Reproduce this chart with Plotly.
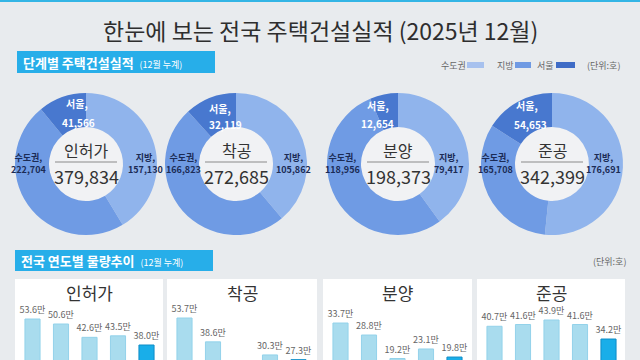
import plotly.graph_objects as go

# ---------------- data ----------------
stages = ['인허가', '착공', '분양', '준공']
metro_total = [222704, 166823, 118956, 165708]   # 수도권 (incl. 서울)
local_total = [157130, 105862, 79417, 176691]    # 지방
seoul_total = [41566, 32119, 12654, 54653]       # 서울
grand_total = [379834, 272685, 198373, 342399]

years = ['2021', '2022', '2023', '2024', '2025']
permit = [53.6, 50.6, 42.6, 43.5, 38.0]
start = [53.7, 38.6, 24.6, 30.3, 27.3]
presale = [33.7, 28.8, 19.2, 23.1, 19.8]
completion = [40.7, 41.6, 43.9, 41.6, 34.2]
yearly = [permit, start, presale, completion]

# ---------------- layout helpers ----------------
W, H = 640, 360
def px(x):
    return x / W
def py(y):
    return 1 - y / H

FONT = 'Noto Sans CJK KR'
BG = '#e8ebee'
C_LOCAL, C_METRO, C_SEOUL = '#90b4ec', '#6f9be4', '#4878cf'

fig = go.Figure()
shapes = []
ann = []

def text(x, y, s, size, color='#333', xanchor='center', weight='normal'):
    ann.append(dict(x=px(x), y=py(y), xref='paper', yref='paper', text=s, showarrow=False,
                    xanchor=xanchor, yanchor='middle',
                    font=dict(family=FONT, size=size, color=color, weight=weight)))

# top strip
shapes.append(dict(type='rect', xref='paper', yref='paper', x0=0, x1=1, y0=py(2), y1=1,
                   fillcolor='#33b5e5', line=dict(width=0)))
# title
text(320, 30, '한눈에 보는 전국 주택건설실적 (2025년 12월)', 23, '#2e2e2e')

# section headers
def header(x0, y0, x1, y1, main, sub):
    shapes.append(dict(type='rect', xref='paper', yref='paper', x0=px(x0), x1=px(x1),
                       y0=py(y1), y1=py(y0), fillcolor='#27aee9', line=dict(width=0)))
    text(x0 + 4, (y0 + y1) / 2,
         f"<b>{main}</b>  <span style='font-size:9px'>{sub}</span>", 13, 'white', xanchor='left')

header(17, 51, 215, 73, '단계별 주택건설실적', '(12월 누계)')
header(15, 250, 213, 271, '전국 연도별 물량추이', '(12월 누계)')

# legend
text(453, 65, '수도권', 9, '#666')
shapes.append(dict(type='rect', xref='paper', yref='paper', x0=px(467), x1=px(484),
                   y0=py(68), y1=py(62), fillcolor='#a7c1ee', line=dict(width=0)))
text(505, 65, '지방', 9, '#666')
shapes.append(dict(type='rect', xref='paper', yref='paper', x0=px(515), x1=px(531),
                   y0=py(68), y1=py(62), fillcolor='#6f9ae3', line=dict(width=0)))
text(545, 65, '서울', 9, '#666')
shapes.append(dict(type='rect', xref='paper', yref='paper', x0=px(556), x1=px(575),
                   y0=py(68), y1=py(62), fillcolor='#3f6cc6', line=dict(width=0)))
text(603, 65, '(단위:호)', 9, '#666')
text(609, 261, '(단위:호)', 9, '#666')

# ---------------- donuts ----------------
centers = [86, 236, 398, 552]
CY, R, RH = 164, 71, 37
seoul_name_off = [(-9, -61), (-16, -56), (-20, -59), (-25, -59)]
seoul_val_off = [(-8, -42), (-11, -40), (-21, -41), (-22, -40)]
metro_dx = [-58, -53, -56, -57]
local_dx = [59, 57, 50, 51]

for i, st in enumerate(stages):
    cx = centers[i]
    vals = [local_total[i], metro_total[i] - seoul_total[i], seoul_total[i]]
    fig.add_trace(go.Pie(
        values=vals, labels=['지방', '수도권', '서울'], hole=RH / R, sort=False,
        direction='clockwise', rotation=0, textinfo='none', hoverinfo='label+value',
        marker=dict(colors=[C_LOCAL, C_METRO, C_SEOUL], line=dict(width=0)),
        domain=dict(x=[px(cx - R), px(cx + R)], y=[py(CY + R), py(CY - R)]),
        showlegend=False))
    shapes.append(dict(type='circle', xref='paper', yref='paper', layer='below',
                       x0=px(cx - RH), x1=px(cx + RH), y0=py(CY + RH), y1=py(CY - RH),
                       fillcolor='#f1f2f4', line=dict(width=0)))
    shapes.append(dict(type='line', xref='paper', yref='paper',
                       x0=px(cx - 31), x1=px(cx + 31), y0=py(CY - 2), y1=py(CY - 2),
                       line=dict(color='#8a8a8a', width=1)))
    text(cx, CY - 14, st, 16, '#333')
    text(cx, CY + 12, f'{grand_total[i]:,}', 18, '#333')
    dx, dy = seoul_name_off[i]
    text(cx + dx, CY + dy, '<b>서울,</b>', 10, 'white')
    dx, dy = seoul_val_off[i]
    text(cx + dx, CY + dy, f'<b>{seoul_total[i]:,}</b>', 10, 'white')
    text(cx + metro_dx[i], CY, f'<b>수도권,<br>{metro_total[i]:,}</b>', 9, '#1b2b55')
    text(cx + local_dx[i], CY, f'<b>지방,<br>{local_total[i]:,}</b>', 9, '#1b2b55')

# ---------------- yearly bars ----------------
panels = [(15, 163), (167, 317), (323, 472), (477, 625)]
yranges = [(29.0, 65.0), (27.1, 65.1), (18.6, 43.1), (23.5, 54.1)]
PANEL_TOP, BAR_TOP = 279, 300
STEP, FIRST = 28.5, 17.5

for i, st in enumerate(stages):
    x0, x1 = panels[i]
    shapes.append(dict(type='rect', xref='paper', yref='paper', layer='below',
                       x0=px(x0), x1=px(x1), y0=0, y1=py(PANEL_TOP),
                       fillcolor='white', line=dict(width=0)))
    text((x0 + x1) / 2, 292, st, 17, '#333')
    vals = yearly[i]
    colors = ['#a9dcee'] * (len(vals) - 1) + ['#19aee9']
    lines = ['#93d2ea'] * (len(vals) - 1) + ['#0f8dc7']
    n = i + 1
    fig.add_trace(go.Bar(
        x=list(range(len(years))), y=vals, width=0.53,
        marker=dict(color=colors, line=dict(color=lines, width=1)),
        text=[f'{v:.1f}만' for v in vals], textposition='outside', cliponaxis=False,
        constraintext='none',
        textfont=dict(family=FONT, size=9, color='#666'),
        hovertext=years, showlegend=False,
        xaxis=f'x{n}', yaxis=f'y{n}'))
    lo = -FIRST / STEP
    hi = lo + (x1 - x0) / STEP
    fig.layout[f'xaxis{n}'] = dict(domain=[px(x0), px(x1)], range=[lo, hi], visible=False,
                                   anchor=f'y{n}')
    fig.layout[f'yaxis{n}'] = dict(domain=[0, py(BAR_TOP)], range=list(yranges[i]),
                                   visible=False, anchor=f'x{n}')

fig.update_layout(width=W, height=H, margin=dict(l=0, r=0, t=0, b=0),
                  paper_bgcolor=BG, plot_bgcolor='rgba(0,0,0,0)',
                  shapes=shapes, annotations=ann, showlegend=False,
                  font=dict(family=FONT))

fig.write_html('out.html', config={'displayModeBar': False},
               post_script="document.body.style.margin='0';document.body.style.overflow='hidden';")
